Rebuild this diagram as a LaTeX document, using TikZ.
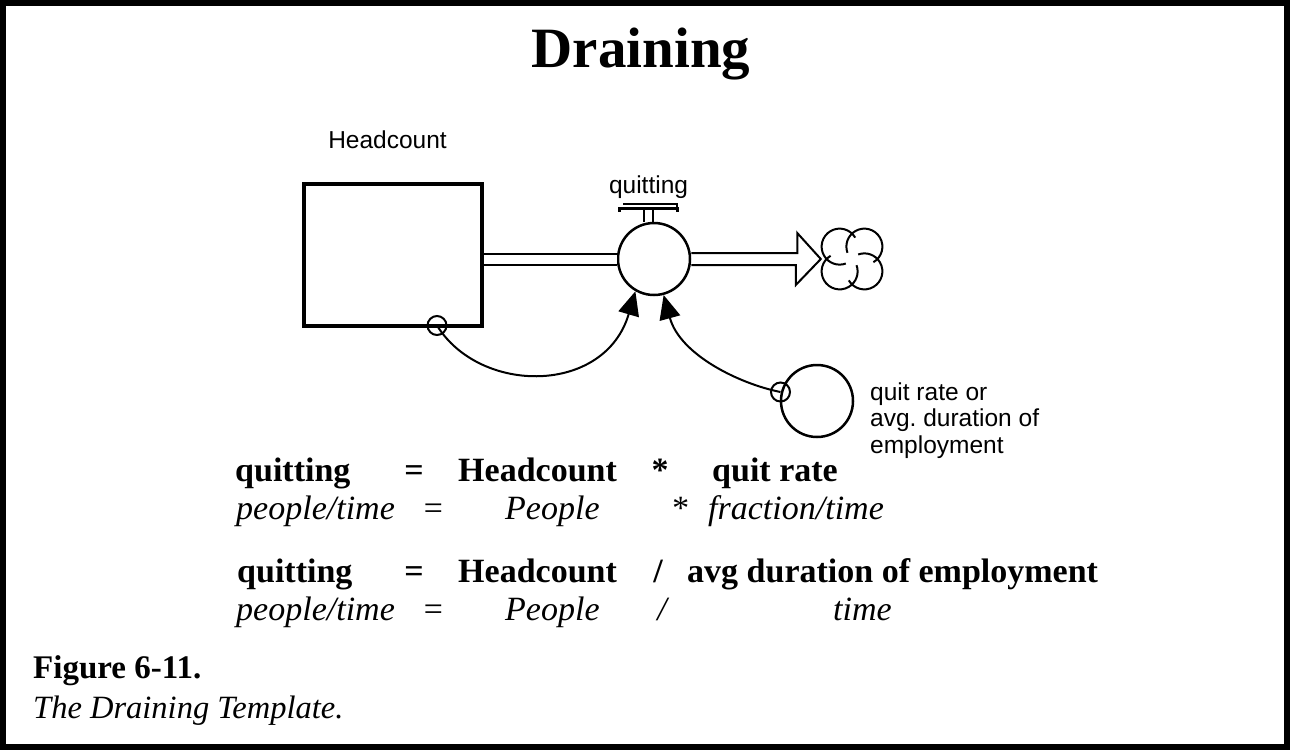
\documentclass[tikz,border=0pt]{standalone}
\usepackage{fontspec}
\setmainfont{Liberation Serif}
\setsansfont{Liberation Sans}
\usetikzlibrary{arrows.meta}

\begin{document}
\begin{tikzpicture}[x=1pt,y=-1pt,
  stock/.style={draw,line width=4pt,minimum width=178pt,minimum height=142pt,inner sep=0pt},
  valve/.style={draw,circle,line width=2.5pt,minimum size=72pt,inner sep=0pt,fill=white},
  tap/.style={draw,circle,line width=2pt,minimum size=19pt,inner sep=0pt},
  pipe/.style={double,line width=2pt,double distance=9pt},
  lnk/.style={line width=2pt,-{Triangle[length=24pt,width=21pt]}},
  vname/.style={font=\sffamily\fontsize{24.5}{26.5}\selectfont,inner sep=0pt,anchor=base},
  eqb/.style={font=\bfseries\fontsize{34}{40}\selectfont,inner sep=0pt,anchor=base west},
  eqi/.style={font=\itshape\fontsize{34}{40}\selectfont,inner sep=0pt,anchor=base west},
  opb/.style={eqb,anchor=base},
  opi/.style={eqi,anchor=base}]
  \useasboundingbox (0,0) rectangle (1290,750);
  \draw[line width=6pt] (3,3) rectangle (1287,747);
  \node[font=\bfseries\fontsize{57}{60}\selectfont,inner sep=0pt,anchor=base] (title) at (641,67) {Draining};

  \node[stock] (headcount) at (393,255) {};
  \node[vname] (hclabel) at (387.5,148) {Headcount};
  \node[valve] (valve) at (654,259) {};
  \node[vname] (qlabel) at (648.5,193) {quitting};
  \node[minimum size=62pt,inner sep=0pt] (sink) at (852,259) {};
  \node[valve] (quitrate) at (817,401) {};
  \node[font=\sffamily\fontsize{24.5}{26.5}\selectfont,inner sep=0pt,align=left,anchor=base west] (qrlabel) at (870,453) {quit rate or\\avg.\ duration of\\employment};
  \node[tap] (hcout) at (437,325.5) {};
  \node[tap] (auxin) at (780.5,392) {};

  \draw[pipe] (headcount.east |- valve.west) -- (valve.west);
  \draw[line width=2pt] ([yshift=6pt]valve.east) -- ++(106,0) -- ++(0,-20) -- (sink.west)
    -- ++(-25,26) -- ++(0,-20) -- ([yshift=-6pt]valve.east);
  \begin{scope}[shift={(sink.center)},y=1pt]
    \foreach \a in {0,90,180,270}
      \draw[line width=2pt] (0,0) ++(\a+45:17.5) ++(\a-60:18) arc[start angle=\a-60,end angle=\a+200,radius=18];
  \end{scope}
  \draw[line width=2pt] ([xshift=-10.5pt]valve.north) -- ++(0,-13);
  \draw[line width=2pt] ([xshift=-1pt]valve.north) -- ++(0,-13);
  \draw[line width=3pt] (619,211.5) -- (619,208) -- (677,208) -- (677,211.5);
  \draw[line width=2pt] (623,203.5) -- (677,203.5) -- (677,208);

  \draw[lnk] (hcout.center) .. controls (480,395) and (605,395) .. (valve.240);
  \draw[lnk] (auxin.center) .. controls (740,384) and (680,355) .. (valve.285);

  \node[eqb] (q1) at (235,481) {quitting};
  \node[opb] (eq1) at (414,481) {=};
  \node[eqb] (hc1) at (458,481) {Headcount};
  \node[opb] (op1) at (660,481) {*};
  \node[eqb] (qr1) at (712,481) {quit rate};
  \node[eqi] (u1) at (236,519) {people/time};
  \node[opi] (ueq1) at (433,519) {=};
  \node[eqi] (up1) at (505,519) {People};
  \node[opi] (uop1) at (679,519) {*};
  \node[eqi] (uqr1) at (708,519) {fraction/time};

  \node[eqb] (q2) at (237,582) {quitting};
  \node[opb] (eq2) at (414,582) {=};
  \node[eqb] (hc2) at (458,582) {Headcount};
  \node[opb] (op2) at (658,582) {/};
  \node[eqb] (qr2) at (687,582) {avg duration of employment};
  \node[eqi] (u2) at (236,620) {people/time};
  \node[opi] (ueq2) at (433,620) {=};
  \node[eqi] (up2) at (505,620) {People};
  \node[opi] (uop2) at (662,620) {/};
  \node[eqi] (uqr2) at (833,620) {time};

  \node[font=\bfseries\fontsize{33}{38}\selectfont,inner sep=0pt,anchor=base west] (fig) at (33,678) {Figure 6-11.};
  \node[font=\itshape\fontsize{32.5}{38}\selectfont,inner sep=0pt,anchor=base west] (cap) at (33,718) {The Draining Template.};
\end{tikzpicture}
\end{document}
